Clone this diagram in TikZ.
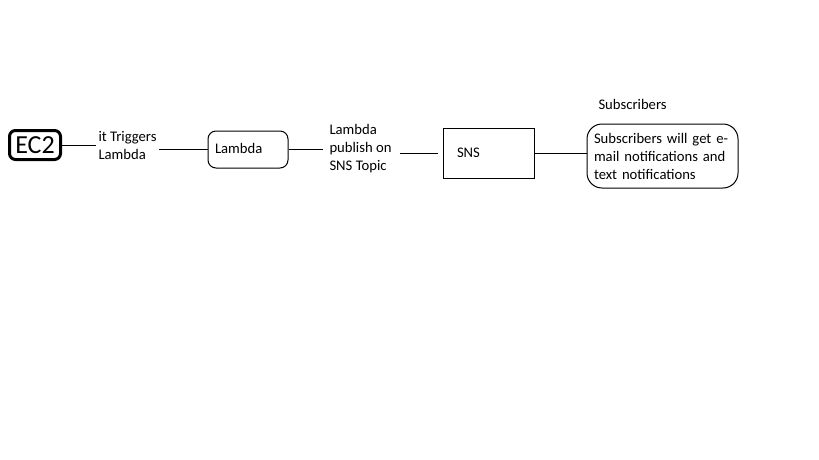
\documentclass[tikz,border=0pt]{standalone}
\usepackage{fontspec}
\setmainfont{Carlito}
\begin{document}
\begin{tikzpicture}[x=1pt,y=-1pt, line width=1pt,
  every node/.style={font=\fontsize{14.67}{18}\selectfont, inner sep=0pt},
  lbl/.style={anchor=west, align=left},
  boxtext/.style={draw, align=left, inner xsep=#1},
]
\useasboundingbox (0,0) rectangle (819,460);
\node[draw, line width=3pt, rounded corners=6pt, minimum width=51pt, minimum height=29pt] (ec2) at (35,145) {\fontsize{26}{30}\selectfont EC2};
\node[lbl] (t1) at (98,146) {it Triggers\\Lambda};
\node[boxtext=7pt, rounded corners=8pt, text width=66pt, minimum height=37pt] (lam) at (248,149.5) {\raisebox{2pt}{Lambda}};
\node[lbl] (t2) at (329,149) {Lambda\\publish on\\SNS Topic};
\node[boxtext=14pt, text width=63pt, minimum height=50pt] (sns) at (488.5,153) {SNS};
\node[boxtext=7pt, rounded corners=15pt, text width=137pt, minimum height=64pt] (sub) at (662.5,156) {\raisebox{1.5pt}{\parbox[c]{137pt}{\raggedright Subscribers will get e-\\mail notifications and\\text notifications}}};
\node[lbl] (subl) at (598,104) {Subscribers};
\draw[shorten >=2pt] (ec2.east) -- (t1.west |- ec2.east);
\draw[shorten <=2pt] (t1.east |- lam.west) -- (lam.west);
\draw[shorten >=6pt] (lam.east) -- (t2.west |- lam.east);
\draw[shorten <=8pt, shorten >=5pt] (t2.east |- sns.west) -- (sns.west);
\draw (sns.east) -- (sub.west |- sns.east);
\end{tikzpicture}
\end{document}
